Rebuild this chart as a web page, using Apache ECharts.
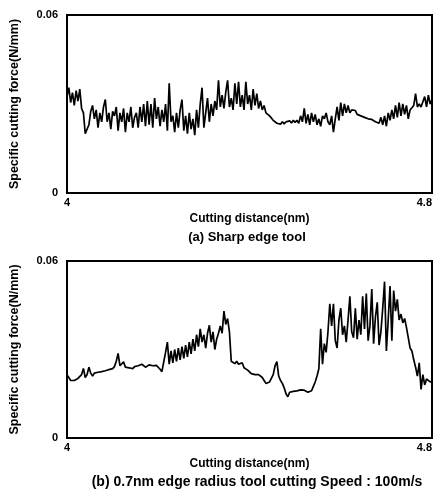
<!DOCTYPE html>
<html>
<head>
<meta charset="utf-8">
<script src="https://cdn.jsdelivr.net/npm/echarts@6/dist/echarts.min.js"></script>
<style>
  html, body { margin: 0; padding: 0; background: #fff; }
  #chart { width: 447px; height: 491px; }
</style>
</head>
<body>
<div id="chart"></div>
<script>
// sampled every 0.004 nm from 4 to 4.8, force in 1e-3 N/mm
const distStart = 4;
const distStep = 0.004;
const xTicks = [4, 4.8];
const yTicks = [0, 0.06];

// (a) sharp edge tool
const forceSharp = [
  32.5, 35.5, 30.5, 33.8, 29.5, 34.5, 31, 35, 28.5, 27,
  20, 19.5, 23, 27.5, 29.5, 25, 28, 22, 27, 24,
  29, 31.5, 24, 27, 21.5, 27.5, 26, 29, 21, 27,
  24, 28.5, 20.5, 27, 24, 29, 22, 25.5, 27, 22,
  29, 24, 30, 22.5, 31, 23, 30, 22, 32, 25,
  29, 22.5, 28, 24, 30, 21, 37, 24, 26, 20.5,
  27, 22, 28, 31.5, 21, 26, 20, 27, 21.5, 25,
  19.5, 28, 22, 30, 35.5, 22, 27, 32, 24, 30,
  26, 31, 28, 38, 29, 33, 28.5, 34, 38, 29,
  32, 28, 37, 30, 37.5, 29, 33, 28, 37.5, 30,
  33, 28, 35, 29.5, 33.5, 28.5, 31, 28, 29.5, 27,
  27.5, 26, 25.5, 24.5, 24, 23.5, 23.5, 23.2, 24, 23.3,
  24, 23.5, 24.3, 23.6, 24.5, 23.8, 24.5, 23.5, 26, 24,
  28.5, 23.5, 26.5, 23, 27, 24, 26.5, 23, 25, 22.5,
  26, 25, 27, 24, 23, 26, 20.5, 25, 29, 24.5,
  30.5, 26, 30, 27, 29.5, 27, 28, 27.5, 27.8, 26.5,
  27, 26, 26.5, 25.5, 26, 25, 25.5, 24.8, 25, 24,
  24.5, 23.5, 25.5, 23, 26, 22.5, 27, 24.5, 28, 25,
  29.5, 25.5, 30.5, 26, 30, 26.5, 29.5, 25, 28, 27.5,
  29.5, 33.5, 29, 30, 29, 29.5, 32.5, 29, 33, 30,
  31.5
];

// (b) 0.7nm edge radius tool
const forceRadius = [
  21.4, 20.5, 19.5, 19.0, 19.5, 20.0, 20.2, 20.0, 21.5, 23.6,
  20.5, 21.5, 24.0, 22.0, 21.0, 22.0, 21.8, 22.3, 22.0, 22.5,
  22.3, 22.8, 23.0, 23.2, 23.8, 23.5, 24.2, 26.0, 28.7, 24.5,
  25.0, 25.8, 24.0, 23.5, 23.8, 24.0, 23.5, 24.2, 24.8, 24.5,
  24.0, 25.0, 24.5, 24.0, 24.3, 24.8, 25.0, 24.5, 24.2, 24.6,
  24.0, 23.3, 22.5, 22.0, 29.0, 32.5, 25.0, 29.5, 25.5, 30.0,
  26.0, 30.5, 26.5, 31.0, 27.0, 31.5, 27.5, 32.5, 28.5, 33.5,
  29.5, 35.0, 31.0, 37.0, 32.5, 35.0, 30.5, 35.5, 38.2, 32.5,
  36.0, 30.0, 33.5, 35.5, 38.0, 35.5, 43.0, 38.5, 40.5, 36.0,
  26.0, 26.5, 25.2, 26.0, 25.0, 24.7, 25.5, 23.8, 23.2, 23.0,
  22.5, 21.8, 22.2, 21.5, 21.8, 21.5, 22.0, 20.5, 19.5, 18.5,
  18.2, 19.0, 19.5, 21.5, 24.5, 25.9, 21.0, 19.5, 18.5, 17.0,
  15.0, 14.0, 15.5, 15.2, 15.8, 15.6, 16.0, 16.2, 16.3, 16.0,
  16.2, 15.8, 15.5, 15.2, 16.0, 17.5, 19.0, 21.0, 23.5, 37.0,
  25.0, 32.0, 29.0, 36.0, 45.5, 38.0, 45.5, 33.0, 30.5, 40.0,
  44.0, 35.0, 38.0, 32.5, 40.0, 48.0, 36.0, 34.0, 44.0, 33.5,
  40.0, 35.0, 48.0, 37.0, 49.0, 33.0, 38.0, 50.5, 32.0, 41.0,
  46.0, 31.5, 36.0, 44.0, 53.0, 29.5, 40.0, 51.5, 33.0, 50.0,
  43.0, 47.0, 40.0, 42.0, 39.0, 40.5, 37.5, 34.0, 30.5, 29.5,
  26.5, 24.0, 21.0, 25.5, 16.5, 21.5, 18.0, 20.0, 19.5, 19.0,
  19.1
];

const yName = 'Specific cutting force(N/mm)';
const xName = 'Cutting distance(nm)';
const captionA = '(a) Sharp edge tool';
const captionB = '(b) 0.7nm edge radius tool cutting Speed : 100m/s';

function toPairs(vals) {
  return vals.map((v, i) => [distStart + i * distStep, v / 1000]);
}

const font = 'Liberation Sans';
const grids = [
  { left: 67, top: 15, width: 365, height: 178 },
  { left: 67, top: 261, width: 365, height: 177 }
];

function xAxis(idx) {
  return {
    type: 'value', gridIndex: idx,
    min: xTicks[0], max: xTicks[1], interval: xTicks[1] - xTicks[0],
    name: xName, nameLocation: 'middle', nameGap: 20,
    nameTextStyle: { color: '#000', fontFamily: font, fontSize: 12, fontWeight: 'bold' },
    axisLine: { show: true, lineStyle: { color: '#000', width: 2 } },
    axisTick: { show: false },
    splitLine: { show: false },
    axisLabel: {
      color: '#000', fontFamily: font, fontSize: 11, fontWeight: 'bold', margin: 4,
      alignMinLabel: 'center', alignMaxLabel: 'right',
      formatter: v => String(Math.round(v * 10) / 10)
    }
  };
}

function yAxis(idx) {
  return {
    type: 'value', gridIndex: idx,
    min: yTicks[0], max: yTicks[1], interval: yTicks[1] - yTicks[0],
    name: yName, nameLocation: 'middle', nameGap: 46, nameRotate: 90,
    nameTextStyle: { color: '#000', fontFamily: font, fontSize: 12.5, fontWeight: 'bold' },
    axisLine: { show: true, lineStyle: { color: '#000', width: 2 } },
    axisTick: { show: false },
    splitLine: { show: false },
    axisLabel: {
      color: '#000', fontFamily: font, fontSize: 11, fontWeight: 'bold', margin: 9,
      formatter: v => (v === 0 ? '0' : v.toFixed(2))
    }
  };
}

const myChart = echarts.init(document.getElementById('chart'), null, { renderer: 'canvas' });

const option = {
  backgroundColor: '#fff',
  animation: false,
  grid: grids.map(g => Object.assign({ show: true, borderColor: '#000', borderWidth: 2, backgroundColor: 'transparent' }, g)),
  xAxis: [xAxis(0), xAxis(1)],
  yAxis: [yAxis(0), yAxis(1)],
  series: [
    {
      type: 'line', xAxisIndex: 0, yAxisIndex: 0,
      data: toPairs(forceSharp), showSymbol: false,
      lineStyle: { color: '#000', width: 1.7 }
    },
    {
      type: 'line', xAxisIndex: 1, yAxisIndex: 1,
      data: toPairs(forceRadius), showSymbol: false,
      lineStyle: { color: '#000', width: 1.7 }
    }
  ],
  graphic: [
    {
      type: 'text', x: 247, y: 237,
      style: { text: captionA, fill: '#000', font: 'bold 13px "Liberation Sans"', align: 'center', verticalAlign: 'middle' }
    },
    {
      type: 'text', x: 257, y: 482,
      style: { text: captionB, fill: '#000', font: 'bold 14px "Liberation Sans"', align: 'center', verticalAlign: 'middle' }
    }
  ]
};

option && myChart.setOption(option);
</script>
</body>
</html>
